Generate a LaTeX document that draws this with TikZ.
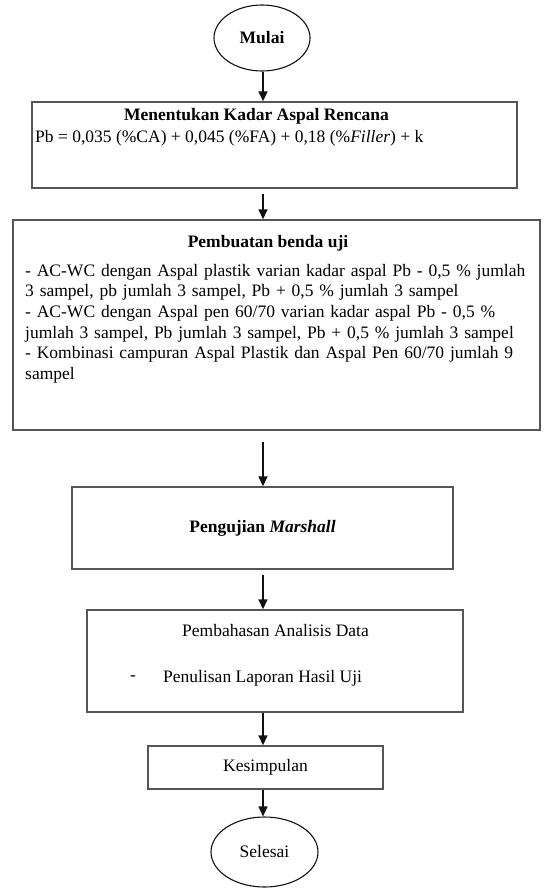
\documentclass[tikz,border=0pt]{standalone}
\usepackage{fontspec}
\setmainfont{Liberation Serif}
\usetikzlibrary{arrows.meta,calc,positioning,shapes.geometric}
\definecolor{Ink}{HTML}{111111}
\definecolor{Frame}{HTML}{555555}
\newcommand\bodyfont{\fontsize{17.5}{20.6}\selectfont}
\tikzset{
  terminal/.style={
    ellipse, draw=Ink, line width=1.1pt, inner sep=0pt, font=\bodyfont
  },
  box/.style={
    draw=Frame, line width=1.4pt, inner sep=0pt
  },
  txt/.style={inner sep=0pt, font=\bodyfont},
  boldtxt/.style={inner sep=0pt, font=\bodyfont\bfseries},
  flow/.style={-{Triangle[length=10pt,width=9pt]}, line width=1.5pt, draw=Ink}
}

\begin{document}
\begin{tikzpicture}[x=1pt,y=1pt]
  \useasboundingbox (0,0) rectangle (545,-888);
  \coordinate (poros) at (263,0);
  % awal
  \node[terminal, minimum width=96pt, minimum height=66pt, font=\bodyfont\bfseries] (mulai) at (262,-38) {Mulai};
  % kadar aspal rencana
  \node[box, minimum width=485pt, minimum height=86pt] (tentukan) at (274.5,-145) {};
  \node[boldtxt] (judul1) at (256.5,-116) {Menentukan Kadar Aspal Rencana};
  \node[txt, anchor=west] (rumus) at (35,-138) {Pb = 0,035 (\%CA) + 0,045 (\%FA) + 0,18 (\%\textit{Filler}) + k};
  % benda uji
  \node[box, minimum width=527pt, minimum height=210pt] (benda) at (276.5,-325) {};
  \node[boldtxt] (judul2) at (268,-243) {Pembuatan benda uji};
  \node[txt, anchor=north west, text width=507pt, align=left] (isi2) at (25,-264) {%
    \makebox[507pt][s]{- AC-WC dengan Aspal plastik varian kadar aspal Pb - 0,5 \% jumlah}\\
    3 sampel, pb jumlah 3 sampel, Pb + 0,5 \% jumlah 3 sampel\\
    \makebox[507pt][s]{- AC-WC dengan Aspal pen 60/70 varian kadar aspal Pb - 0,5 \%}\\
    jumlah 3 sampel, Pb jumlah 3 sampel, Pb + 0,5 \% jumlah 3 sampel\\
    \makebox[507pt][s]{- Kombinasi campuran Aspal Plastik dan Aspal Pen 60/70 jumlah 9}\\
    sampel};
  % pengujian
  \node[box, boldtxt, minimum width=381pt, minimum height=82pt] (marshall) at (262.5,-528) {Pengujian \textit{Marshall}};
  % analisis
  \node[box, minimum width=376pt, minimum height=102pt] (analisis) at (275,-661) {};
  \node[txt] (judul4) at (275.5,-631) {Pembahasan Analisis Data};
  \node[txt] (strip) at (133,-678) {-};
  \node[txt, anchor=west] (laporan) at (163,-678) {Penulisan Laporan Hasil Uji};
  % akhir
  \node[box, txt, minimum width=235pt, minimum height=43pt] (simpulan) at (265.5,-767.5) {Kesimpulan};
  \node[terminal, minimum width=107pt, minimum height=70pt] (selesai) at (264.5,-852) {Selesai};
  % panah
  \draw[flow] (mulai.south -| poros) -- (tentukan.north -| poros);
  \draw[flow, shorten <=5pt] (tentukan.south -| poros) -- (benda.north -| poros);
  \draw[flow, shorten <=11pt] (benda.south -| poros) -- (marshall.north -| poros);
  \draw[flow, shorten <=5pt] (marshall.south -| poros) -- (analisis.north -| poros);
  \draw[flow] (analisis.south -| poros) -- (simpulan.north -| poros);
  \draw[flow] (simpulan.south -| poros) -- (selesai.north -| poros);
\end{tikzpicture}
\end{document}
